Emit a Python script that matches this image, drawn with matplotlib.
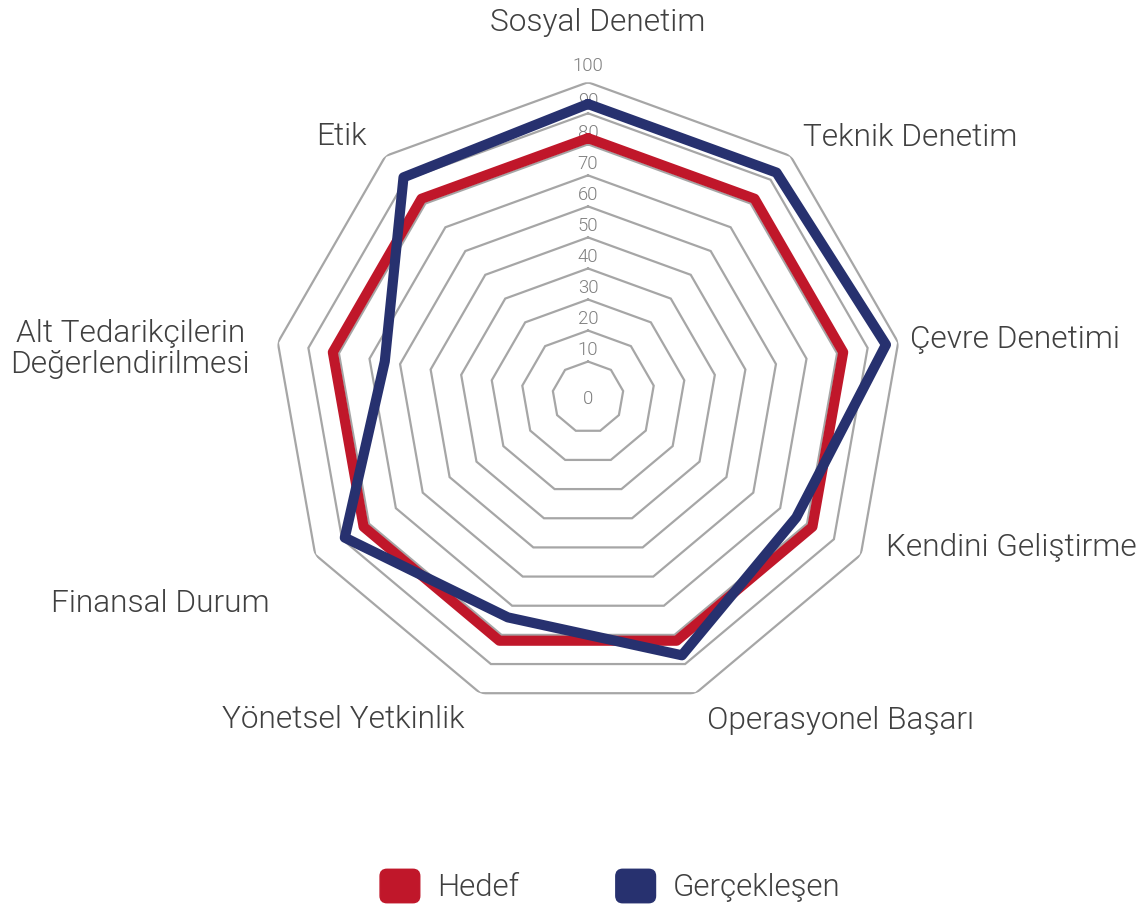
import numpy as np
import matplotlib
matplotlib.use("Agg")
import matplotlib.pyplot as plt
from matplotlib.patches import FancyBboxPatch, Patch
from matplotlib.legend_handler import HandlerPatch

plt.rcParams["font.family"] = ["Roboto", "DejaVu Sans"]

# ---- data -------------------------------------------------------------
categories = [
    "Sosyal Denetim",
    "Teknik Denetim",
    "Çevre Denetimi",
    "Kendini Geliştirme",
    "Operasyonel Başarı",
    "Yönetsel Yetkinlik",
    "Finansal Durum",
    "Alt Tedarikçilerin\nDeğerlendirilmesi",
    "Etik",
]
hedef = [82, 82, 82, 82, 82, 82, 82, 82, 82]
gerceklesen = [93, 93, 96, 76, 87, 74, 89, 65, 91]
ring_ticks = [0, 10, 20, 30, 40, 50, 60, 70, 80, 90, 100]
series_names = ["Hedef", "Gerçekleşen"]

# ---- style ------------------------------------------------------------
RED = "#C0172A"
BLUE = "#27316F"
GRID = "#A6A6A6"
TEXT = "#404040"
TICK = "#7F7F7F"
W = 300  # Roboto Light

fig = plt.figure(figsize=(11.47, 9.09), dpi=100)
ax = fig.add_axes([0.238, 0.2165, 0.5493, 0.693], projection="polar")
ax.set_theta_zero_location("N")
ax.set_theta_direction(-1)
ax.set_ylim(-1.5, 100)
ax.grid(False)
ax.set_xticks([])
ax.set_yticks([])
for sp in ax.spines.values():
    sp.set_visible(False)
ax.patch.set_visible(False)

n = len(categories)
angles = np.linspace(0, 2 * np.pi, n, endpoint=False)
closed = np.append(angles, angles[0])

# polygon gridlines
for t in ring_ticks:
    if t > 0:
        ax.plot(closed, [t] * (n + 1), color=GRID, lw=1.6, zorder=1,
                solid_joinstyle="miter")

# ring value labels along the top axis
for t in ring_ticks:
    off = 8.5 if t < 100 else 12
    if t == 0:
        off = -4.5
    ax.annotate(str(t), xy=(0, t), xytext=(0, off), textcoords="offset points",
                ha="center", va="center", fontsize=13.3, color=TICK,
                fontweight=W, zorder=2)

# data series
for vals, color in ((hedef, RED), (gerceklesen, BLUE)):
    ax.plot(closed, list(vals) + [vals[0]], color=color, lw=7.3, zorder=3,
            solid_joinstyle="round", solid_capstyle="round")

# category labels: (angle in degrees, radius, horizontal alignment)
label_place = [
    (1.5, 119.4, "center"),
    (39.6, 107.3, "left"),
    (79.9, 103.9, "left"),
    (116.8, 106.1, "left"),
    (159.8, 109.4, "left"),
    (201.0, 109.9, "right"),
    (237.1, 120.6, "right"),
    (278.1, 108.5, "right"),
    (319.7, 108.5, "right"),
]
for name, (deg, r, ha) in zip(categories, label_place):
    ax.text(np.deg2rad(deg), r, name, ha=ha, va="center", fontsize=22.8,
            color=TEXT, fontweight=W, multialignment="center",
            linespacing=1.1)


# legend with rounded swatches
def rounded_swatch(legend, orig_handle, xdescent, ydescent, width, height, fontsize):
    return FancyBboxPatch((-xdescent, -ydescent), width, height,
                          boxstyle="round,pad=0,rounding_size=5")


handles = [Patch(facecolor=RED, edgecolor=RED), Patch(facecolor=BLUE, edgecolor=BLUE)]
fig.legend(handles, series_names, loc="center", bbox_to_anchor=(0.532, 0.0253),
           ncol=2, frameon=False, handlelength=1.27, handleheight=1.27,
           handletextpad=0.55, columnspacing=3.1, labelcolor=TEXT,
           prop={"family": ["Roboto", "DejaVu Sans"], "weight": W, "size": 22.5},
           handler_map={Patch: HandlerPatch(patch_func=rounded_swatch)})

fig.savefig("out.png", dpi=100, facecolor="white")
